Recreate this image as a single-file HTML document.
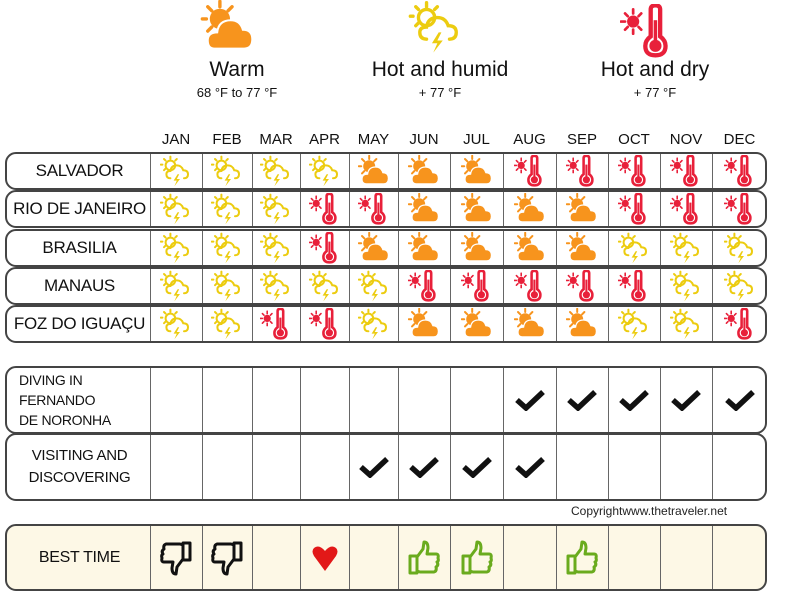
<!DOCTYPE html>
<html><head><meta charset="utf-8"><style>
body{margin:0;width:800px;height:593px;background:#fff;font-family:"Liberation Sans",sans-serif;overflow:hidden;position:relative}
.a{position:absolute}
.lg{position:absolute;text-align:center;color:#111;font-family:"Liberation Sans",sans-serif}
.lg b{display:block;font-weight:normal;font-size:21px}
.lg i{display:block;font-style:normal;font-size:13px;margin-top:3px}
.m{position:absolute;top:131px;font-size:15px;color:#111;width:52px;text-align:center}
.row{position:absolute;left:5px;width:762px;border:2px solid #444;border-radius:11px;box-sizing:border-box}
.lab{position:absolute;left:0;width:145px;display:flex;align-items:center;justify-content:center;font-size:17px;color:#111;height:100%;white-space:nowrap;letter-spacing:-0.3px}
.vl{position:absolute;top:0;bottom:0;width:1px;background:#666}
svg.ic{position:absolute}
</style></head><body>
<svg width="0" height="0" style="position:absolute">
<defs>
<symbol id="W" viewBox="0 0 40 40"><g stroke="#f7941d" stroke-width="2.5" stroke-linecap="round"><line x1="14" y1="1" x2="14" y2="5"/><line x1="4" y1="14" x2="1" y2="14"/><line x1="5" y1="5" x2="8" y2="8"/><line x1="23" y1="5" x2="20" y2="8"/><line x1="5" y1="23" x2="8" y2="20"/></g><circle cx="14" cy="14" r="7.5" fill="#f7941d"/><path d="M10 36 Q5 36 5 30 Q5 24 12 24 Q13 15 22 15 Q29 15 31 22 Q38 22 38 29 Q38 36 32 36Z" fill="#f7941d" stroke="#fff" stroke-width="1.5"/></symbol>
<symbol id="H" viewBox="0 0 40 40"><g stroke="#eccc10" stroke-width="2.5" stroke-linecap="round" fill="none"><line x1="13" y1="2" x2="13" y2="5"/><line x1="3" y1="12" x2="1" y2="12"/><line x1="5" y1="5" x2="7" y2="7"/><line x1="21" y1="5" x2="19" y2="7"/><line x1="5" y1="19" x2="7" y2="17"/><circle cx="13" cy="13" r="6"/><path d="M13 29 Q8 29 8 24 Q8 20 13 20 Q14 13 21 13 Q27 13 29 19 Q35 19 35 24 Q35 29 30 29"/></g><path d="M22 24 L17 32 L21 32 L18 39 L25 30 L21 30 L24 24Z" fill="#eccc10"/></symbol>
<symbol id="T" viewBox="0 0 40 40"><g stroke="#e8203a" stroke-width="2" stroke-linecap="round"><line x1="9" y1="4" x2="9" y2="7"/><line x1="9" y1="19" x2="9" y2="22"/><line x1="0" y1="13" x2="3" y2="13"/><line x1="3" y1="7" x2="5" y2="9"/><line x1="3" y1="19" x2="5" y2="17"/><line x1="15" y1="7" x2="13" y2="9"/><line x1="15" y1="19" x2="13" y2="17"/></g><circle cx="9" cy="13" r="4.5" fill="#e8203a"/><path d="M22 4 Q22 1 25.5 1 Q29 1 29 4 L29 24 Q33 27 33 31 Q33 38 25.5 38 Q18 38 18 31 Q18 27 22 24Z" fill="none" stroke="#e8203a" stroke-width="3.2"/><circle cx="25.5" cy="31" r="4.5" fill="#e8203a"/><rect x="24.2" y="12" width="2.6" height="18" fill="#e8203a"/></symbol>
</defs></svg>

<svg class="ic" style="left:196px;top:0px" width="64" height="54"><use href="#W" width="64" height="54"/></svg>
<svg class="ic" style="left:405px;top:0px" width="62" height="54"><use href="#H" width="62" height="54"/></svg>
<svg class="ic" style="left:620px;top:4px" width="56" height="54"><use href="#T" width="56" height="54"/></svg>
<div class="lg" style="left:162px;top:58px;width:150px"><b>Warm</b><i>68 °F to 77 °F</i></div>
<div class="lg" style="left:350px;top:58px;width:180px"><b>Hot and humid</b><i>+ 77 °F</i></div>
<div class="lg" style="left:580px;top:58px;width:150px"><b>Hot and dry</b><i>+ 77 °F</i></div>
<div id="c"></div>
<div class="a" style="left:571px;top:504px;font-size:12px;color:#222">Copyrightwww.thetraveler.net</div>
<script>
var B=[150,202,252,300,349,398,450,503,556,608,660,712,767];
var M=["JAN","FEB","MAR","APR","MAY","JUN","JUL","AUG","SEP","OCT","NOV","DEC"];
var h="";
for(var i=0;i<12;i++)h+='<div class="m" style="left:'+((B[i]+B[i+1])/2-26)+'px">'+M[i]+'</div>';
var R=[["SALVADOR",152,"HHHHWWWTTTTT"],["RIO DE JANEIRO",190,"HHHTTWWWWTTT"],["BRASILIA",229,"HHHTWWWWWHHH"],["MANAUS",267,"HHHHHTTTTTHH"],["FOZ DO IGUAÇU",305,"HHTTHWWWWHHT"]];
function row(top,ht,lab,bg,extra){var s='<div class="row" style="top:'+top+'px;height:'+ht+'px;background:'+bg+'"><div class="lab" '+(extra||'')+'>'+lab+'</div>';for(var i=0;i<12;i++)s+='<div class="vl" style="left:'+(B[i]-7)+'px"></div>';return s+'</div>';}
R.forEach(function(r){h+=row(r[1],38,r[0],'#fff');for(var i=0;i<12;i++){var cx=(B[i]+B[i+1])/2;h+='<svg class="ic" style="left:'+(cx-16)+'px;top:'+(r[1]+3)+'px" width="32" height="32"><use href="#'+r[2][i]+'" width="32" height="32"/></svg>';}});
h+=row(366,68,'DIVING IN<br>FERNANDO<br>DE NORONHA','#fff','style="justify-content:flex-start;padding-left:12px;font-size:14px;line-height:20px;width:133px;text-align:left;white-space:normal"');
h+=row(433,68,'VISITING AND<br>DISCOVERING','#fff','style="font-size:15px;line-height:22px;text-align:center"');
h+=row(524,67,'BEST TIME','#fdf8e6','style="font-size:16px"');
function chk(i,y){var cx=(B[i]+B[i+1])/2;h+='<svg class="ic" style="left:'+(cx-15)+'px;top:'+y+'px" width="30" height="22"><path d="M2 11 L11 19 L28 3" fill="none" stroke="#111" stroke-width="5.5"/></svg>';}
for(var i=7;i<12;i++)chk(i,389);for(var i=4;i<8;i++)chk(i,456);
function thumb(i,up){var cx=(B[i]+B[i+1])/2;var c=up?'#6aab1e':'#111';var t=up?'':'transform="rotate(180 16 18)"';h+='<svg class="ic" style="left:'+(cx-16)+'px;top:540px" width="32" height="36"><g '+t+' fill="none" stroke="'+c+'" stroke-width="3" stroke-linejoin="round"><rect x="2" y="16" width="7" height="17"/><path d="M9 17 L15 9 L16 2 Q20 2 20 8 L19 14 L28 14 Q31 14 30 18 Q31 21 29 22 Q31 25 28 27 Q29 31 26 32 L12 32 L9 31"/></g></svg>';}
thumb(0,0);thumb(1,0);thumb(5,1);thumb(6,1);thumb(8,1);
var cx=(B[3]+B[4])/2;h+='<svg class="ic" style="left:'+(cx-14)+'px;top:544px" width="28" height="28"><path d="M14 27 L3 12 Q0 7 3 4 Q8 0 14 7 Q20 0 25 4 Q28 7 25 12Z" fill="#e21818"/></svg>';
document.getElementById('c').innerHTML=h;
</script>
</body></html>
